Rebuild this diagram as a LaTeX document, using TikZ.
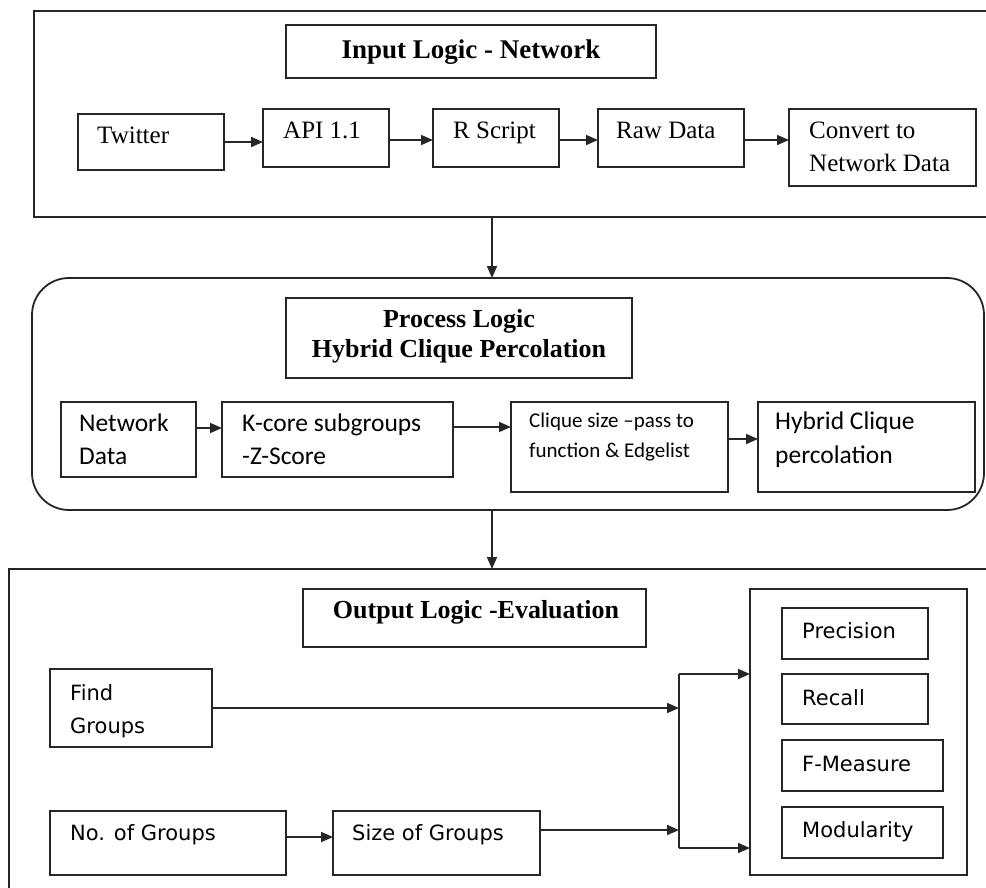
\documentclass[tikz,border=0pt]{standalone}
\usepackage{fontspec}
\setmainfont{Liberation Serif}
\newfontfamily\calfont{Carlito}
\newfontfamily\verfont{DejaVu Sans}
\usetikzlibrary{arrows.meta,calc}
\newcommand\mkbox[6][]{\node[box,#1,minimum width={(#5)-(#3)},minimum height={(#6)-(#4)}] (#2) at (#3,#4) {};}
\begin{document}
\begin{tikzpicture}[x=1pt,y=-1pt,
  box/.style={draw=black!85, line width=1.8pt, anchor=north west, inner sep=0pt, outer sep=0pt},
  arr/.style={draw=black!85, line width=1.7pt, -{Triangle[length=12pt,width=10pt]}},
  ln/.style={draw=black!85, line width=1.7pt},
  ser/.style={anchor=base west, inner sep=0pt, font=\fontsize{25}{30}\selectfont},
  ttl/.style={anchor=base, inner sep=0pt, font=\fontsize{26}{30}\selectfont\bfseries},
  cal/.style={anchor=base west, inner sep=0pt, font=\fontsize{25.5}{33}\calfont},
  calsm/.style={anchor=base west, inner sep=0pt, font=\fontsize{21}{30}\calfont},
  ver/.style={anchor=base west, inner sep=0pt, font=\fontsize{21}{33}\verfont},
]
\useasboundingbox (0,0) rectangle (986,887);
\fill[white] (0,0) rectangle (986,887);
\clip (0,0) rectangle (986,887);

% ---------- Input logic ----------
\mkbox{inp}{34}{11}{994}{217}
\mkbox{tin}{286}{25}{656}{78}
\node[ttl, font=\fontsize{27}{30}\selectfont\bfseries] (tint) at (471,58) {Input Logic - Network};
\mkbox{tw}{78}{114}{224}{170}
\mkbox{api}{263}{109}{389}{167}
\mkbox{rs}{433}{109}{559}{167}
\mkbox{rd}{598}{109}{744}{167}
\mkbox{cv}{789}{109}{976}{186}
\node[ser] (twt) at (97,143) {Twitter};
\node[ser] (apit) at (283,138) {API 1.1};
\node[ser] (rst) at (453,138) {R Script};
\node[ser] (rdt) at (616,138) {Raw Data};
\node[ser] (cvt1) at (809,138) {Convert to};
\node[ser] (cvt2) at (809,171) {Network Data};
\draw[arr] (tw.east) -- (tw.east -| api.west);
\draw[arr] ($(api.north east)+(0,31)$) -- ($(rs.north west)+(0,31)$);
\draw[arr] ($(rs.north east)+(0,31)$) -- ($(rd.north west)+(0,31)$);
\draw[arr] ($(rd.north east)+(0,31)$) -- ($(cv.north west)+(0,31)$);

% ---------- Process logic ----------
\mkbox[rounded corners=37pt]{proc}{32}{278}{984}{510}
\draw[arr] ($(inp.south west)+(458,0)$) -- ($(proc.north west)+(460,0)$);
\mkbox{tpr}{286}{298}{632}{378}
\node[ttl] (tpr1) at (459,327) {Process Logic};
\node[ttl] (tpr2) at (459,357) {Hybrid Clique Percolation};
\mkbox{nd}{61}{402}{196}{477}
\mkbox{kc}{222}{402}{453}{477}
\mkbox{cl}{511}{402}{728}{492}
\mkbox{hy}{758}{402}{975}{492}
\node[cal] (ndt1) at (79,431) {Network};
\node[cal] (ndt2) at (79,464) {Data};
\node[cal] (kct1) at (242,431) {K-core subgroups};
\node[cal] (kct2) at (242,464) {-Z-Score};
\node[calsm] (clt1) at (529,427) {Clique size \textendash pass to};
\node[calsm] (clt2) at (529,457) {function \& Edgelist};
\node[cal] (hyt1) at (775,429) {Hybrid Clique};
\node[cal] (hyt2) at (775,463) {percolation};
\draw[arr] ($(nd.north east)+(0,26)$) -- ($(kc.north west)+(0,26)$);
\draw[arr] ($(kc.north east)+(0,25)$) -- ($(cl.north west)+(0,25)$);
\draw[arr] ($(cl.north east)+(0,37)$) -- ($(hy.north west)+(0,37)$);

% ---------- Output logic ----------
\mkbox{out}{9}{569}{1000}{900}
\draw[arr] ($(proc.south west)+(460,0)$) -- ($(out.north west)+(483,0)$);
\mkbox{tout}{303}{589}{646}{647}
\node[ttl] (toutt) at (476,618) {Output Logic -Evaluation};
\mkbox{fg}{50}{669}{212}{747}
\mkbox{no}{50}{811}{286}{875}
\mkbox{sz}{333}{811}{540}{875}
\mkbox{met}{750}{589}{967}{875}
\mkbox{pr}{782}{608}{928}{659}
\mkbox{rc}{782}{674}{928}{724}
\mkbox{fm}{782}{740}{943}{791}
\mkbox{md}{782}{807}{943}{858}
\node[ver] (fgt1) at (70,700) {Find};
\node[ver] (fgt2) at (70,733) {Groups};
\node[ver] (not) at (70,840) {No. of Groups};
\node[ver] (szt) at (352,840) {Size of Groups};
\node[ver] (prt) at (802,638) {Precision};
\node[ver] (rct) at (802,705) {Recall};
\node[ver] (fmt) at (802,771) {F-Measure};
\node[ver] (mdt) at (802,837) {Modularity};
\coordinate (bt) at (679,674);
\coordinate (bb) at (679,848);
\draw[ln] (bt) -- (bb);
\draw[arr] (bt) -- (bt -| met.west);
\draw[arr] (bb) -- (bb -| met.west);
\draw[arr] (fg.east) -- (fg.east -| bt);
\coordinate (szo) at ($(sz.north east)+(0,19)$);
\draw[arr] (szo) -- (szo -| bt);
\draw[arr] ($(no.north east)+(0,26)$) -- ($(sz.north west)+(0,26)$);
\end{tikzpicture}
\end{document}
